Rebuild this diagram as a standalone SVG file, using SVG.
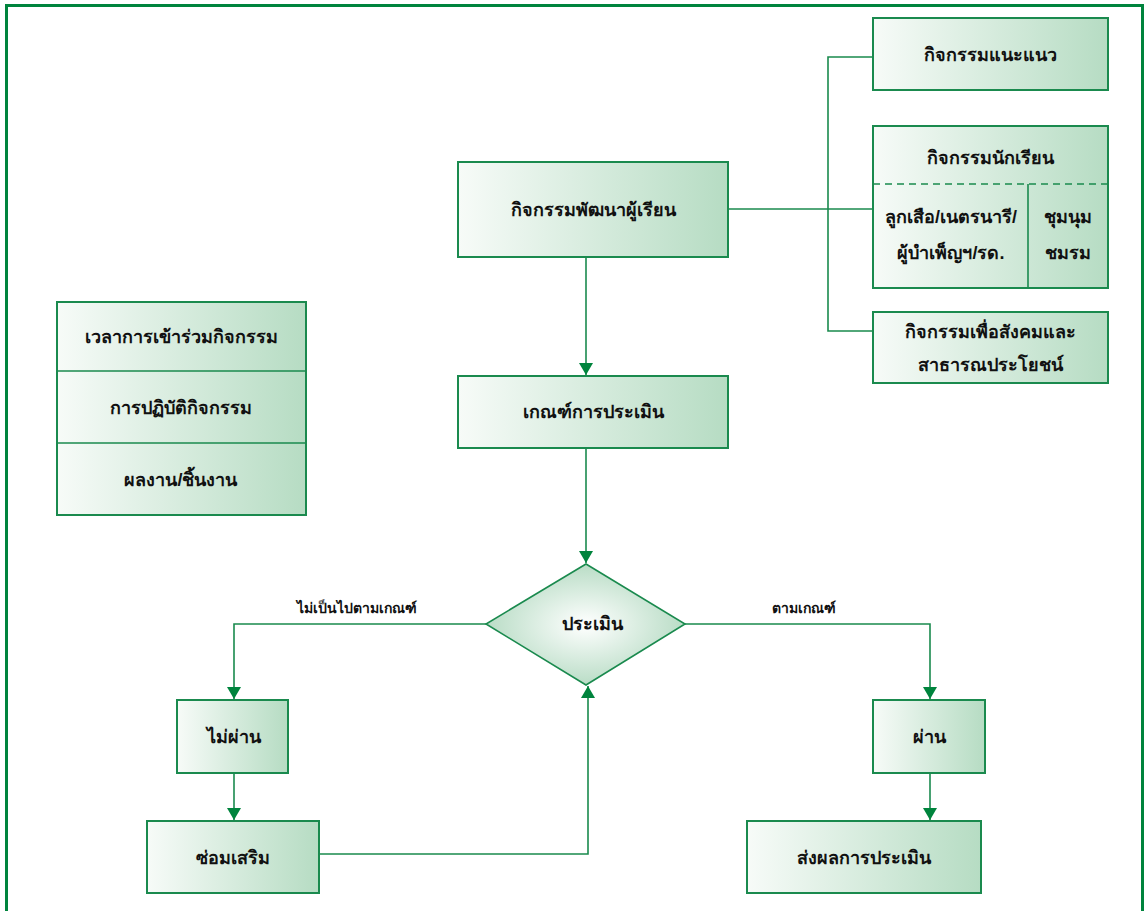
<svg xmlns="http://www.w3.org/2000/svg" width="1145" height="911" viewBox="0 0 1145 911">
<defs>
<linearGradient id="g" x1="0" y1="0" x2="1" y2="0">
<stop offset="0" stop-color="#f7fbf8"/>
<stop offset="1" stop-color="#b6dcc3"/>
</linearGradient>
<radialGradient id="rg" cx="0.5" cy="0.5" r="0.55">
<stop offset="0" stop-color="#ffffff"/>
<stop offset="1" stop-color="#b2d9c0"/>
</radialGradient>
<marker id="ah" markerWidth="12" markerHeight="14" refX="12" refY="7" orient="auto" markerUnits="userSpaceOnUse">
<path d="M0,0 L12,7 L0,14 Z" fill="#00843d"/>
</marker>
<style>
.box{fill:url(#g);stroke:#1a8a4e;stroke-width:2}
.t{font-family:"Liberation Sans","Noto Sans",sans-serif;font-weight:bold;font-size:18px;fill:#111;text-anchor:middle}
.lbl{font-family:"Liberation Sans","Noto Sans",sans-serif;font-weight:bold;font-size:14px;fill:#111;text-anchor:middle}
.c{fill:none;stroke:#1a8a4e;stroke-width:1.6}
</style>
</defs>
<rect x="6.5" y="5.5" width="1136" height="920" fill="#fff" stroke="#00843d" stroke-width="3"/>

<g id="connectors">
<polyline class="c" points="873,57 828,57 828,331 873,331"/>
<line class="c" x1="728" y1="209" x2="873" y2="209"/>
<line class="c" x1="586" y1="257" x2="586" y2="375" marker-end="url(#ah)"/>
<line class="c" x1="586" y1="448" x2="586" y2="563" marker-end="url(#ah)"/>
<polyline class="c" points="486,624 234,624 234,699" marker-end="url(#ah)"/>
<polyline class="c" points="685,624 930,624 930,699" marker-end="url(#ah)"/>
<line class="c" x1="234" y1="773" x2="234" y2="820" marker-end="url(#ah)"/>
<line class="c" x1="930" y1="773" x2="930" y2="820" marker-end="url(#ah)"/>
<polyline class="c" points="319,854 588,854 588,686" marker-end="url(#ah)"/>
<text class="lbl" x="357" y="613">ไม่เป็นไปตามเกณฑ์</text>
<text class="lbl" x="804" y="613">ตามเกณฑ์</text>
</g>

<g id="n-guidance">
<rect class="box" x="873" y="18" width="235" height="72"/>
<text class="t" x="990" y="61">กิจกรรมแนะแนว</text>
</g>

<g id="n-student">
<rect class="box" x="873" y="126" width="235" height="162"/>
<line x1="873" y1="184" x2="1108" y2="184" stroke="#1a8a4e" stroke-width="1.6" stroke-dasharray="7,5"/>
<line x1="1028" y1="184" x2="1028" y2="288" stroke="#1a8a4e" stroke-width="1.6"/>
<text class="t" x="990" y="164">กิจกรรมนักเรียน</text>
<text class="t" x="951" y="223">ลูกเสือ/เนตรนารี/</text>
<text class="t" x="951" y="259">ผู้บำเพ็ญฯ/รด.</text>
<text class="t" x="1068" y="223">ชุมนุม</text>
<text class="t" x="1068" y="259">ชมรม</text>
</g>

<g id="n-social">
<rect class="box" x="873" y="312" width="235" height="71"/>
<text class="t" x="990" y="338">กิจกรรมเพื่อสังคมและ</text>
<text class="t" x="990" y="371">สาธารณประโยชน์</text>
</g>

<g id="n-main">
<rect class="box" x="458" y="162" width="270" height="95"/>
<text class="t" x="593" y="216">กิจกรรมพัฒนาผู้เรียน</text>
</g>

<g id="n-criteria">
<rect class="box" x="458" y="376" width="270" height="72"/>
<text class="t" x="593" y="418">เกณฑ์การประเมิน</text>
</g>

<g id="n-left">
<rect class="box" x="57" y="302" width="249" height="213"/>
<line x1="57" y1="371" x2="306" y2="371" stroke="#1a8a4e" stroke-width="1.6"/>
<line x1="57" y1="443" x2="306" y2="443" stroke="#1a8a4e" stroke-width="1.6"/>
<text class="t" x="181" y="343">เวลาการเข้าร่วมกิจกรรม</text>
<text class="t" x="181" y="414">การปฏิบัติกิจกรรม</text>
<text class="t" x="181" y="486">ผลงาน/ชิ้นงาน</text>
</g>

<g id="n-evaluate">
<polygon points="586,564 685,624 586,685 486,624" fill="url(#rg)" stroke="#1a8a4e" stroke-width="1.6"/>
<text class="t" x="592" y="630">ประเมิน</text>
</g>

<g id="n-fail">
<rect class="box" x="177" y="700" width="111" height="73"/>
<text class="t" x="234" y="743">ไม่ผ่าน</text>
</g>

<g id="n-remedial">
<rect class="box" x="147" y="821" width="172" height="72"/>
<text class="t" x="233" y="864">ซ่อมเสริม</text>
</g>

<g id="n-pass">
<rect class="box" x="873" y="700" width="112" height="73"/>
<text class="t" x="929" y="743">ผ่าน</text>
</g>

<g id="n-report">
<rect class="box" x="747" y="821" width="234" height="72"/>
<text class="t" x="864" y="864">ส่งผลการประเมิน</text>
</g>
</svg>
